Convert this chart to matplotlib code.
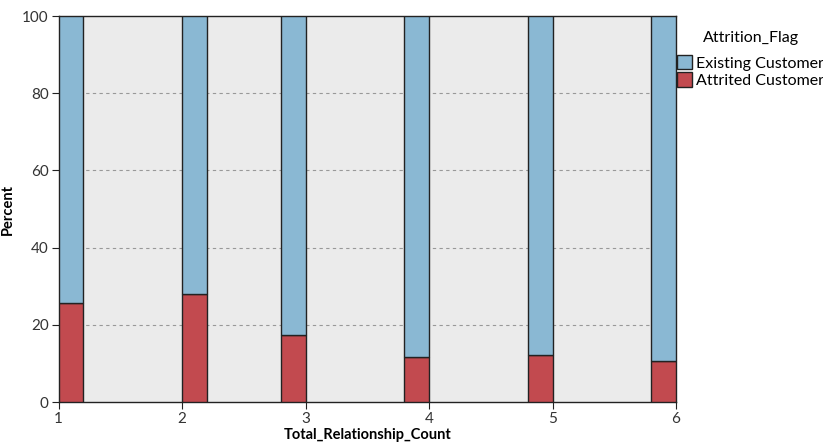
import matplotlib
matplotlib.use("Agg")
import matplotlib.pyplot as plt
from matplotlib.patches import Patch

plt.rcParams['font.family'] = ['Lato', 'DejaVu Sans']

categories = [1, 2, 3, 4, 5, 6]
bar_lefts = [1.0, 2.0, 2.8, 3.8, 4.8, 5.8]
attrited_pct = [25.6, 27.9, 17.4, 11.7, 12.1, 10.5]
existing_pct = [100 - v for v in attrited_pct]
bar_width = 0.2

blue = "#8AB8D3"
red = "#C24A4F"

fig = plt.figure(figsize=(8.23, 4.45), dpi=100)
ax = fig.add_axes([0.0711, 0.0966, 0.7503, 0.8674])
ax.set_facecolor("#EBEBEB")

ax.bar(bar_lefts, attrited_pct, width=bar_width, align="edge", color=red,
       edgecolor="#222222", linewidth=1.0, zorder=3)
ax.bar(bar_lefts, existing_pct, width=bar_width, align="edge", bottom=attrited_pct,
       color=blue, edgecolor="#222222", linewidth=1.0, zorder=3)

ax.set_xlim(1, 6)
ax.set_ylim(0, 100)
ax.set_xticks(categories)
ax.set_yticks([0, 20, 40, 60, 80, 100])
for y in [20, 40, 60, 80]:
    ax.axhline(y, color="#999999", linestyle=(0, (3, 3)), linewidth=0.8, zorder=1)

for s in ax.spines.values():
    s.set_color("#222222")
    s.set_linewidth(1.0)
ax.tick_params(axis="both", labelsize=11, color="#222222", labelcolor="#333333", length=5, pad=2)
ax.set_xlabel("Total_Relationship_Count", fontsize=10.5, fontweight="bold")
ax.xaxis.set_label_coords(0.5, -0.068)
ax.set_ylabel("Percent", fontsize=10.5, fontweight="bold")
ax.yaxis.set_label_coords(-0.07, 0.5)

handles = [Patch(facecolor=blue, edgecolor="#222222", label="Existing Customer"),
           Patch(facecolor=red, edgecolor="#222222", label="Attrited Customer")]
leg = fig.legend(handles=handles, title="Attrition_Flag", loc="upper left",
                 bbox_to_anchor=(0.815, 0.944), frameon=False, fontsize=11.5,
                 title_fontsize=11.5, handlelength=0.9, handleheight=1.0,
                 handletextpad=0.3, labelspacing=0.1, borderaxespad=0.0)
leg._legend_box.align = "center"
leg._legend_box.sep = 7

fig.savefig("out.png", dpi=100)
